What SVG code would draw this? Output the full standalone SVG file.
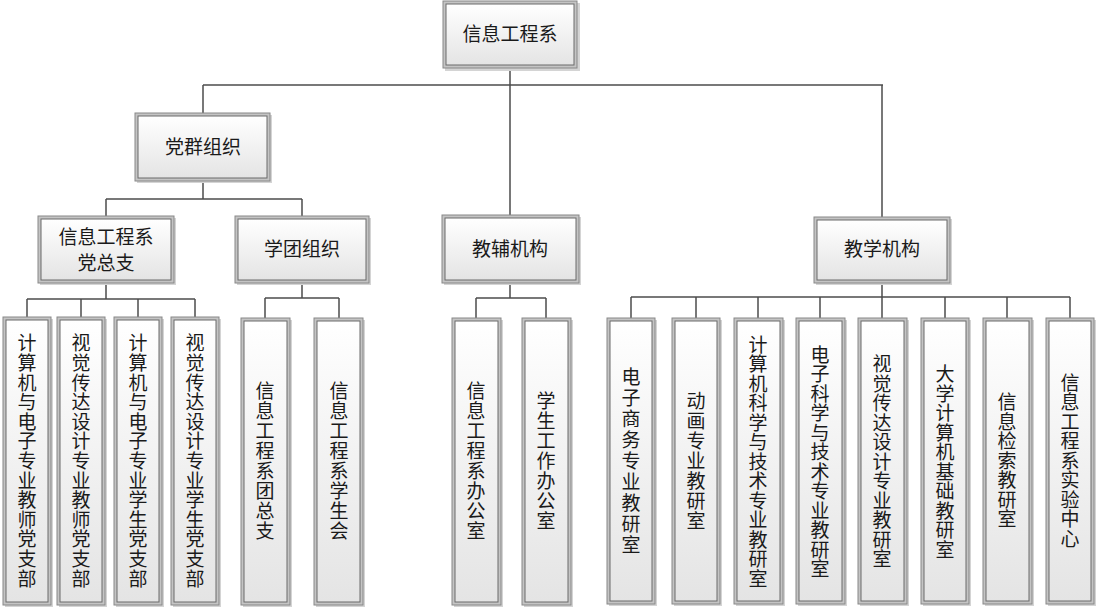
<svg xmlns="http://www.w3.org/2000/svg" width="1111" height="607" viewBox="0 0 1111 607">
<defs>
<linearGradient id="g" x1="0" y1="0" x2="0" y2="1">
<stop offset="0" stop-color="#ffffff"/>
<stop offset="1" stop-color="#e4e4e4"/>
</linearGradient>
<style>
.sh{fill:#d4d4d4;}
.o{fill:#c4c4c4;stroke:#888888;stroke-width:1;}
.i{fill:url(#g);stroke:#6a6a6a;stroke-width:1;}
.t{font-family:"Noto Sans CJK SC","Noto Sans",sans-serif;font-size:19px;fill:#1a1a1a;text-anchor:middle;}
.v{writing-mode:vertical-rl;text-orientation:upright;}
.c{fill:none;stroke:#4c4c4c;stroke-width:1.5;}
</style>
</defs>
<rect width="1111" height="607" fill="#ffffff"/>
<g id="connectors">
<path class="c" d="M510 68V85M203 85H883M203 85V113M510 85V215M882 85V217"/>
<path class="c" d="M203 181V199M106 199H302M106 199V216M302 199V216"/>
<path class="c" d="M106 283V299M27 299H195M27 299V317M81 299V317M138 299V317M195 299V317"/>
<path class="c" d="M302 283V298M265 298H339M265 298V318M339 298V318"/>
<path class="c" d="M510 283V298M476 298H546M476 298V318M546 298V318"/>
<path class="c" d="M882 283V297M631 297H1070M631 297V318M696 297V318M758 297V318M820 297V318M882 297V318M945 297V318M1007 297V318M1070 297V318"/>
</g>
<g id="n-root"><rect class="sh" x="445" y="3" width="135" height="68"/><rect class="o" x="443" y="1" width="134" height="67"/><rect class="i" x="446" y="4" width="128" height="61"/><text class="t" x="510" y="41">信息工程系</text></g>
<g id="n-dangqun"><rect class="sh" x="137" y="115" width="135" height="68"/><rect class="o" x="135" y="113" width="135" height="68"/><rect class="i" x="138" y="116" width="129" height="62"/><text class="t" x="203" y="154">党群组织</text></g>
<g id="n-jiaofu"><rect class="sh" x="444" y="217" width="137" height="68"/><rect class="o" x="442" y="215" width="137" height="68"/><rect class="i" x="445" y="218" width="131" height="62"/><text class="t" x="510" y="256">教辅机构</text></g>
<g id="n-jiaoxue"><rect class="sh" x="816" y="219" width="136" height="66"/><rect class="o" x="814" y="217" width="136" height="66"/><rect class="i" x="817" y="220" width="130" height="60"/><text class="t" x="882" y="256">教学机构</text></g>
<g id="n-zongzhi"><rect class="sh" x="40" y="218" width="136" height="67"/><rect class="o" x="38" y="216" width="136" height="67"/><rect class="i" x="41" y="219" width="130" height="61"/><text class="t" x="106" y="244">信息工程系</text><text class="t" x="106" y="270">党总支</text></g>
<g id="n-tuan"><rect class="sh" x="237" y="218" width="134" height="67"/><rect class="o" x="235" y="216" width="134" height="67"/><rect class="i" x="238" y="219" width="128" height="61"/><text class="t" x="302" y="256">学团组织</text></g>

<g id="n-l1"><rect class="sh" x="5" y="319" width="48" height="288"/><rect class="o" x="3" y="317" width="48" height="288"/><rect class="i" x="6" y="320" width="42" height="282"/><text class="t v" x="27" y="461" style="letter-spacing:0.6px">计算机与电子专业教师党支部</text></g>
<g id="n-l2"><rect class="sh" x="59" y="319" width="48" height="288"/><rect class="o" x="57" y="317" width="48" height="288"/><rect class="i" x="60" y="320" width="42" height="282"/><text class="t v" x="81" y="461" style="letter-spacing:0.6px">视觉传达设计专业教师党支部</text></g>
<g id="n-l3"><rect class="sh" x="116" y="319" width="48" height="288"/><rect class="o" x="114" y="317" width="48" height="288"/><rect class="i" x="117" y="320" width="42" height="282"/><text class="t v" x="138" y="461" style="letter-spacing:0.6px">计算机与电子专业学生党支部</text></g>
<g id="n-l4"><rect class="sh" x="173" y="319" width="48" height="288"/><rect class="o" x="171" y="317" width="48" height="288"/><rect class="i" x="174" y="320" width="42" height="282"/><text class="t v" x="195" y="461" style="letter-spacing:0.6px">视觉传达设计专业学生党支部</text></g>

<g id="n-l5"><rect class="sh" x="243" y="320" width="49" height="287"/><rect class="o" x="241" y="318" width="49" height="287"/><rect class="i" x="244" y="321" width="43" height="281"/><text class="t v" x="265" y="461" style="letter-spacing:1px">信息工程系团总支</text></g>
<g id="n-l6"><rect class="sh" x="316" y="320" width="49" height="287"/><rect class="o" x="314" y="318" width="49" height="287"/><rect class="i" x="317" y="321" width="43" height="281"/><text class="t v" x="339" y="461" style="letter-spacing:1px">信息工程系学生会</text></g>

<g id="n-l7"><rect class="sh" x="454" y="320" width="49" height="287"/><rect class="o" x="452" y="318" width="49" height="287"/><rect class="i" x="455" y="321" width="43" height="281"/><text class="t v" x="476" y="461" style="letter-spacing:1px">信息工程系办公室</text></g>
<g id="n-l8"><rect class="sh" x="524" y="320" width="49" height="287"/><rect class="o" x="522" y="318" width="49" height="287"/><rect class="i" x="525" y="321" width="43" height="281"/><text class="t v" x="546" y="461" style="letter-spacing:1px">学生工作办公室</text></g>

<g id="n-l9"><rect class="sh" x="609" y="320" width="48" height="286"/><rect class="o" x="607" y="318" width="48" height="286"/><rect class="i" x="610" y="321" width="42" height="280"/><text class="t v" x="631" y="462" style="letter-spacing:2px">电子商务专业教研室</text></g>
<g id="n-l10"><rect class="sh" x="674" y="320" width="48" height="286"/><rect class="o" x="672" y="318" width="48" height="286"/><rect class="i" x="675" y="321" width="42" height="280"/><text class="t v" x="696" y="461" style="letter-spacing:1px">动画专业教研室</text></g>
<g id="n-l11"><rect class="sh" x="736" y="320" width="49" height="286"/><rect class="o" x="734" y="318" width="49" height="286"/><rect class="i" x="737" y="321" width="43" height="280"/><text class="t v" x="758" y="462" style="letter-spacing:0.5px">计算机科学与技术专业教研室</text></g>
<g id="n-l12"><rect class="sh" x="798" y="320" width="49" height="286"/><rect class="o" x="796" y="318" width="49" height="286"/><rect class="i" x="799" y="321" width="43" height="280"/><text class="t v" x="820" y="462" style="letter-spacing:0.5px">电子科学与技术专业教研室</text></g>
<g id="n-l13"><rect class="sh" x="860" y="320" width="49" height="286"/><rect class="o" x="858" y="318" width="49" height="286"/><rect class="i" x="861" y="321" width="43" height="280"/><text class="t v" x="882" y="462" style="letter-spacing:0.5px">视觉传达设计专业教研室</text></g>
<g id="n-l14"><rect class="sh" x="923" y="320" width="48" height="286"/><rect class="o" x="921" y="318" width="48" height="286"/><rect class="i" x="924" y="321" width="42" height="280"/><text class="t v" x="945" y="462" style="letter-spacing:0.5px">大学计算机基础教研室</text></g>
<g id="n-l15"><rect class="sh" x="985" y="320" width="49" height="286"/><rect class="o" x="983" y="318" width="49" height="286"/><rect class="i" x="986" y="321" width="43" height="280"/><text class="t v" x="1007" y="461" style="letter-spacing:0.5px">信息检索教研室</text></g>
<g id="n-l16"><rect class="sh" x="1048" y="320" width="48" height="286"/><rect class="o" x="1046" y="318" width="48" height="286"/><rect class="i" x="1049" y="321" width="42" height="280"/><text class="t v" x="1070" y="461" style="letter-spacing:0.5px">信息工程系实验中心</text></g>
</svg>
